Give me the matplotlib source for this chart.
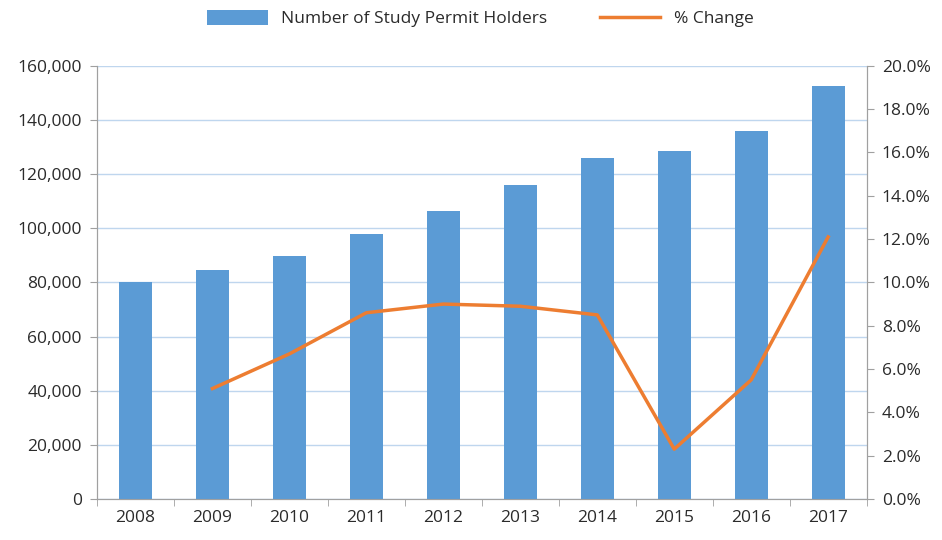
import matplotlib.pyplot as plt
import numpy as np
from matplotlib.ticker import FuncFormatter, MultipleLocator, FixedLocator

plt.rcParams['font.family'] = ['Open Sans', 'DejaVu Sans']

years = ["2008", "2009", "2010", "2011", "2012", "2013", "2014", "2015", "2016", "2017"]
holders = [80200, 84600, 89800, 97900, 106400, 116000, 126000, 128600, 136000, 152600]
pct_change = [None, 5.1, 6.7, 8.6, 9.0, 8.9, 8.5, 2.3, 5.5, 12.1]

bar_col = "#5b9bd5"
line_col = "#ed7d31"
axis_col = "#a0a0a0"
text_col = "#2b2b2b"

fig = plt.figure(figsize=(9.42, 5.4), dpi=100)
ax = fig.add_axes([0.103, 0.076, 0.817, 0.802])
ax2 = ax.twinx()

x = np.arange(len(years))
ax.bar(x, holders, width=0.43, color=bar_col, label="Number of Study Permit Holders", zorder=3)
px = [i for i, v in enumerate(pct_change) if v is not None]
py = [v for v in pct_change if v is not None]
ax2.plot(px, py, color=line_col, lw=2.5, label="% Change", zorder=4)

ax.set_xlim(-0.5, len(years) - 0.5)
ax.set_ylim(0, 160000)
ax2.set_ylim(0, 20)
ax.yaxis.set_major_locator(MultipleLocator(20000))
ax2.yaxis.set_major_locator(MultipleLocator(2))
ax.yaxis.set_major_formatter(FuncFormatter(lambda v, p: f"{int(v):,}"))
ax2.yaxis.set_major_formatter(FuncFormatter(lambda v, p: f"{v:.1f}%"))

ax.set_xticks(x)
ax.set_xticklabels(years)
ax.xaxis.set_minor_locator(FixedLocator(np.arange(-0.5, len(years), 1)))
ax.tick_params(axis='x', which='major', length=0, pad=8, labelsize=12.5, labelcolor=text_col)
ax.tick_params(axis='x', which='minor', length=5, color=axis_col)
ax.tick_params(axis='y', length=5, color=axis_col, labelsize=12.5, labelcolor=text_col, pad=6)
ax2.tick_params(axis='y', length=5, color=axis_col, labelsize=12.5, labelcolor=text_col, pad=6)

ax.grid(axis='y', color="#bfd6ee", lw=1, zorder=0)
ax.set_axisbelow(True)

for a in (ax, ax2):
    a.spines['top'].set_visible(False)
    for s in ('left', 'right', 'bottom'):
        a.spines[s].set_color(axis_col)

h1, l1 = ax.get_legend_handles_labels()
h2, l2 = ax2.get_legend_handles_labels()
fig.legend(h1 + h2, l1 + l2, loc='upper center', bbox_to_anchor=(0.51, 1.01), ncol=2,
           frameon=False, fontsize=12.5, labelcolor=text_col, handlelength=3.5,
           columnspacing=3, handleheight=0.9)

fig.savefig("out.png", dpi=100)
